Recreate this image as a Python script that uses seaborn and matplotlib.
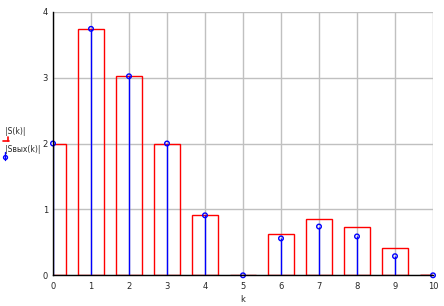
import matplotlib
matplotlib.use("Agg")
import matplotlib.pyplot as plt
import seaborn as sns
import numpy as np
import pandas as pd
from matplotlib.lines import Line2D

k = [0, 1, 2, 3, 4, 5, 6, 7, 8, 9, 10]
S = [2.0, 3.74, 3.02, 2.0, 0.92, 0.0, 0.62, 0.85, 0.74, 0.41, 0.0]
S_out = [2.0, 3.74, 3.02, 2.0, 0.91, 0.0, 0.56, 0.74, 0.59, 0.29, 0.0]
xticks = list(range(11))
yticks = [0, 1, 2, 3, 4]

sns.set_style("white")
plt.rcParams['font.family'] = ['DejaVu Sans']

fig = plt.figure(figsize=(4.44, 3.06), dpi=100)
ax = fig.add_axes([53/444, 1-275.3/306, 380/444, (275.3-11.7)/306])

df = pd.DataFrame({"k": k, "S": S, "Sout": S_out})

sns.barplot(data=df, x="k", y="S", native_scale=True, width=2/3, fill=False,
            color="red", linewidth=1.0, ax=ax, errorbar=None, zorder=3)
for p in ax.patches:
    p.set_edgecolor("#ff0000")
    p.set_facecolor("none")
    p.set_zorder(3)

ax.vlines(df["k"], 0, df["Sout"], color="#0000ff", linewidth=1.0, zorder=4)
sns.scatterplot(data=df, x="k", y="Sout", marker="o", s=11, facecolor="none",
                edgecolor="#0000ff", linewidth=1.0, ax=ax, zorder=5, clip_on=False)

ax.set_xlim(0, 10)
ax.set_ylim(0, 4)
ax.set_xticks(xticks)
ax.set_yticks(yticks)
ax.set_xticklabels([str(t) for t in xticks], fontsize=6)
ax.set_yticklabels([str(t) for t in yticks], fontsize=6)
ax.grid(True, color="#c0c0c0", linewidth=1.0, zorder=0)
ax.set_axisbelow(True)
ax.tick_params(axis="x", length=3, width=1, pad=3, direction="inout", color="black")
ax.tick_params(axis="y", length=3, width=1, pad=2, direction="inout", color="black")
for s in ["top", "right"]:
    ax.spines[s].set_visible(False)
for s in ["left", "bottom"]:
    ax.spines[s].set_color("black")
    ax.spines[s].set_linewidth(1.0)
    ax.spines[s].set_zorder(6)
ax.set_xlabel("")
ax.set_ylabel("")
fig.text(243/444, 1-299/306, "k", fontsize=6, ha="center", va="center")

# y-axis legend label (Mathcad style)
fig.text(5/444, 1-132/306, "|S(k)|", fontsize=5.5, ha="left", va="center")
fig.text(5/444, 1-150/306, "|Sвых(k)|", fontsize=5.5, ha="left", va="center")
fig.add_artist(Line2D([3/444, 9/444], [1-141/306, 1-141/306], color="red", lw=1.2))
fig.add_artist(Line2D([8/444, 8/444], [1-141/306, 1-137/306], color="red", lw=1.2))
fig.add_artist(Line2D([5/444, 5/444], [1-160/306, 1-152/306], color="blue", lw=1))
fig.add_artist(Line2D([5/444], [1-157/306], color="blue", marker="o", ms=2.8,
                      mfc="none", mew=1, lw=0))

fig.savefig("out.png", dpi=100)
